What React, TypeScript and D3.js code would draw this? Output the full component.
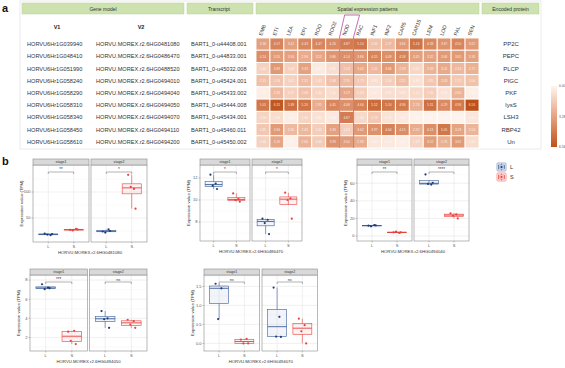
import React from "react";
import * as d3 from "d3";

// ---------- Panel a data ----------
const columns = ["EMB", "ETI", "LEA", "EPI", "ROO", "ROO2", "NOD", "RAC", "INF1", "INF2", "CAR5", "CAR15", "LEM", "LOD", "PAL", "SEN"];
const v1Ids = ["HORVU6Hr1G039940", "HORVU6Hr1G048410", "HORVU6Hr1G051990", "HORVU6Hr1G058240", "HORVU6Hr1G058290", "HORVU6Hr1G058310", "HORVU6Hr1G058340", "HORVU6Hr1G058450", "HORVU6Hr1G058610"];
const v2Ids = ["HORVU.MOREX.r2.6HG0481080", "HORVU.MOREX.r2.6HG0486470", "HORVU.MOREX.r2.6HG0488520", "HORVU.MOREX.r2.6HG0494010", "HORVU.MOREX.r2.6HG0494040", "HORVU.MOREX.r2.6HG0494050", "HORVU.MOREX.r2.6HG0494070", "HORVU.MOREX.r2.6HG0494110", "HORVU.MOREX.r2.6HG0494200"];
const transcripts = ["BART1_0-u44408.001", "BART1_0-u44833.001", "BART1_0-u45032.008", "BART1_0-u45424.001", "BART1_0-u45433.002", "BART1_0-u45444.008", "BART1_0-u45434.001", "BART1_0-u45460.011", "BART1_0-u45450.002"];
const proteins = ["PP2C", "PEPC", "PLCP", "PIGC", "PKF", "lysS", "LSH3", "RBP42", "Un"];

const heatPP2C = [3.36, 4.57, 3.42, 4.43, 4.47, 4.26, 4.87, 5.10, 2.05, 2.37, 3.66, 5.16, 4.38, 3.87, 4.50, 3.62];
const heatPEPC = [4.14, 3.55, 3.34, 2.94, 3.11, 3.86, 4.14, 3.86, 4.55, 4.09, 4.58, 3.45, 3.32, 3.66, 3.65, 3.36];
const heatPLCP = [1.40, 3.69, 1.43, 3.33, 0.45, 0.90, 2.13, 3.02, 2.41, 3.66, 2.59, 1.20, 2.59, 3.01, 2.43, 2.72];
const heatPIGC = [2.15, 1.94, 1.41, 2.31, 1.43, 2.08, 2.35, 1.73, 0.90, 1.56, 2.21, 0.80, 1.85, 2.63, 1.73, 2.04];
const heatPKF = [0.30, 2.35, 1.47, 2.08, 1.30, 1.00, 3.19, 1.50, 0.50, 0.90, 0.90, 1.12, 1.56, 0.70, 2.60, 0.30];
const heatLysS = [5.01, 6.31, 5.38, 5.20, 2.91, 4.45, 4.08, 4.66, 5.52, 5.10, 4.96, 2.74, 5.31, 4.29, 4.96, 6.56];
const heatLSH3 = [1.30, 1.00, 0.30, 1.30, 0.80, 0.50, 4.87, 1.10, 1.73, 0.70, 0.50, 0.13, 0.10, 0.10, 0.10, 0.60];
const heatRBP42 = [1.85, 3.66, 2.36, 2.45, 1.61, 3.34, 1.53, 3.62, 3.97, 4.64, 4.15, 2.92, 4.13, 5.05, 3.28, 2.54];
const heatUn = [1.40, 3.20, 0.21, 2.66, 1.64, 3.93, 3.50, 2.96, 0.60, 0.50, 0.30, 1.29, 3.52, 2.76, 3.62, 1.00];
const heatRows = [heatPP2C, heatPEPC, heatPLCP, heatPIGC, heatPKF, heatLysS, heatLSH3, heatRBP42, heatUn];
const legendTicks = [0, 3.28, 6.56];

// ---------- Panel b data ----------
const groups = ["L", "S"];
const stages = ["stage1", "stage2"];
const jitter = [-0.14, 0.09, -0.04, 0.15];

const p1 = { s1L: [20, 17, 18, 19], s1S: [27, 29, 26, 28], s2L: [24, 28, 22, 25], s2S: [133, 106, 110, 68] };
const p2 = { s1L: [12.3, 11.5, 11.3, 11.0], s1S: [10.6, 10.1, 10.0, 9.85], s2L: [8.3, 8.2, 7.9, 6.9], s2S: [10.66, 10.15, 10.0, 8.3] };
const p3 = { s1L: [11.7, 12.5, 11.0, 12.0], s1S: [4.2, 3.5, 5.0, 4.0], s2L: [70, 58.5, 59.2, 60.5], s2S: [25.8, 24.5, 23, 20] };
const p4 = { s1L: [7.56, 7.2, 7.05, 7.15], s1S: [2.6, 2.7, 1.65, 1.3], s2L: [4.76, 4.0, 3.9, 3.0], s2S: [3.85, 3.7, 3.35, 3.0] };
const p5 = { s1L: [1.57, 1.45, 0.64], s1S: [0.1, 0.12, 0.0, 0.0], s2L: [1.47, 0.7, 0.18, 0.17], s2S: [0.65, 0.48, 0.32, 0.0] };

const sig1 = ["**", "*"];
const sig2 = ["*", "*"];
const sig3 = ["**", "****"];
const sig4 = ["***", "ns"];
const sig5 = ["ns", "ns"];

const ticks1 = [50, 100];
const ticks2 = [8, 10, 12];
const ticks3 = [0, 20, 40, 60];
const ticks4 = [2, 4, 6, 8];
const ticks5 = [0, 0.5, 1.0, 1.5];

const colL = "#3d5f99";
const colLpt = "#1f3b78";
const colS = "#e8423f";
const FONT = "Liberation Sans, Arial, sans-serif";

function boxStats(vals: number[]) {
  const s = vals.slice().sort(d3.ascending);
  const q1 = d3.quantile(s, 0.25)!;
  const med = d3.quantile(s, 0.5)!;
  const q3 = d3.quantile(s, 0.75)!;
  const iqr = q3 - q1;
  const lo = d3.min(s.filter((v) => v >= q1 - 1.5 * iqr))!;
  const hi = d3.max(s.filter((v) => v <= q3 + 1.5 * iqr))!;
  return { q1, med, q3, lo, hi };
}

type PlotProps = {
  x0: number; w: number; gap: number; stripTop: number; panelTop: number; panelBottom: number;
  domain: [number, number]; ticks: number[]; fmt: (v: number) => string; title: string;
  data: { s1L: number[]; s1S: number[]; s2L: number[]; s2S: number[] }; sig: string[];
};

function BoxPlot(p: PlotProps) {
  const y = d3.scaleLinear().domain(p.domain).range([p.panelBottom, p.panelTop]);
  const minor: number[] = [];
  for (let i = 0; i < p.ticks.length - 1; i++) minor.push((p.ticks[i] + p.ticks[i + 1]) / 2);
  const step = p.ticks[1] - p.ticks[0];
  if (p.ticks[0] - step / 2 > p.domain[0]) minor.push(p.ticks[0] - step / 2);
  const last = p.ticks[p.ticks.length - 1];
  if (last + step / 2 < p.domain[1]) minor.push(last + step / 2);
  const sets = [[p.data.s1L, p.data.s1S], [p.data.s2L, p.data.s2S]];
  const totalW = 2 * p.w + p.gap;
  return (
    <g fontFamily={FONT}>
      {stages.map((st, si) => {
        const left = p.x0 + si * (p.w + p.gap);
        const x = d3.scalePoint().domain(groups).range([left, left + p.w]).padding(0.6);
        const bw = x.step() * 0.75;
        const xl = x("L")!;
        const xs = x("S")!;
        const by = p.panelTop + 7;
        return (
          <g key={st}>
            <rect x={left} y={p.panelTop} width={p.w} height={p.panelBottom - p.panelTop} fill="#fff" />
            {minor.map((t) => (
              <line key={"m" + t} x1={left} x2={left + p.w} y1={y(t)} y2={y(t)} stroke="#f3f3f3" strokeWidth={0.4} />
            ))}
            {p.ticks.map((t) => (
              <line key={"t" + t} x1={left} x2={left + p.w} y1={y(t)} y2={y(t)} stroke="#e6e6e6" strokeWidth={0.6} />
            ))}
            {groups.map((g) => (
              <line key={"v" + g} x1={x(g)} x2={x(g)} y1={p.panelTop} y2={p.panelBottom} stroke="#e6e6e6" strokeWidth={0.6} />
            ))}
            {sets[si].map((vals, gi) => {
              const g = groups[gi];
              const c = gi === 0 ? colL : colS;
              const cp = gi === 0 ? colLpt : colS;
              const b = boxStats(vals);
              const cx = x(g)!;
              return (
                <g key={g}>
                  <line x1={cx} x2={cx} y1={y(b.hi)} y2={y(b.q3)} stroke={c} strokeWidth={0.6} />
                  <line x1={cx} x2={cx} y1={y(b.q1)} y2={y(b.lo)} stroke={c} strokeWidth={0.6} />
                  <rect x={cx - bw / 2} y={y(b.q3)} width={bw} height={Math.max(0.6, y(b.q1) - y(b.q3))} fill={c} fillOpacity={0.07} stroke={c} strokeWidth={0.6} />
                  <line x1={cx - bw / 2} x2={cx + bw / 2} y1={y(b.med)} y2={y(b.med)} stroke={c} strokeWidth={0.9} />
                  {vals.map((v, i) => (
                    <circle key={i} cx={cx + jitter[i % jitter.length] * x.step()} cy={y(v)} r={1.1} fill={cp} />
                  ))}
                </g>
              );
            })}
            <rect x={left} y={p.panelTop} width={p.w} height={p.panelBottom - p.panelTop} fill="none" stroke="#8a8a8a" strokeWidth={0.6} />
            <rect x={left} y={p.stripTop} width={p.w} height={p.panelTop - p.stripTop} fill="#d9d9d9" stroke="#8a8a8a" strokeWidth={0.6} />
            <text x={left + p.w / 2} y={(p.stripTop + p.panelTop) / 2 + 1.3} fontSize={3.6} textAnchor="middle" fill="#333">{st}</text>
            <path d={`M${xl},${by + 2}V${by}H${xs}V${by + 2}`} fill="none" stroke="#666" strokeWidth={0.5} />
            <text x={(xl + xs) / 2} y={by - 1} fontSize={p.sig[si] === "ns" ? 4 : 4.5} textAnchor="middle" fill="#444">{p.sig[si]}</text>
            {groups.map((g) => (
              <g key={"x" + g}>
                <line x1={x(g)} x2={x(g)} y1={p.panelBottom} y2={p.panelBottom + 1.5} stroke="#666" strokeWidth={0.4} />
                <text x={x(g)} y={p.panelBottom + 6} fontSize={4} textAnchor="middle" fill="#555">{g}</text>
              </g>
            ))}
          </g>
        );
      })}
      {p.ticks.map((t) => (
        <g key={"yt" + t}>
          <line x1={p.x0 - 1.5} x2={p.x0} y1={y(t)} y2={y(t)} stroke="#666" strokeWidth={0.4} />
          <text x={p.x0 - 2.5} y={y(t) + 1.4} fontSize={4} textAnchor="end" fill="#555">{p.fmt(t)}</text>
        </g>
      ))}
      <text transform={`translate(${p.x0 - 10},${(p.panelTop + p.panelBottom) / 2}) rotate(-90)`} fontSize={4.3} textAnchor="middle" fill="#333">Expression value (TPM)</text>
      <text x={p.x0 + totalW / 2} y={p.panelBottom + 12} fontSize={4.3} textAnchor="middle" fill="#333">{p.title}</text>
    </g>
  );
}

function LegendKey({ x, y, c, cp, label }: { x: number; y: number; c: string; cp: string; label: string }) {
  return (
    <g>
      <rect x={x} y={y} width={9} height={8} fill="#fff" stroke={c} strokeWidth={0.5} rx={1} />
      <line x1={x + 4.5} x2={x + 4.5} y1={y + 0.5} y2={y + 7.5} stroke={c} strokeWidth={0.6} />
      <rect x={x + 1.5} y={y + 2} width={6} height={4} fill="#fff" stroke={c} strokeWidth={0.7} />
      <line x1={x + 1.5} x2={x + 7.5} y1={y + 4} y2={y + 4} stroke={c} strokeWidth={0.8} />
      <circle cx={x + 4.5} cy={y + 4} r={1} fill={cp} />
      <text x={x + 13} y={y + 6} fontSize={5.5} fill="#333" fontFamily={FONT}>{label}</text>
    </g>
  );
}

export default function App() {
  const hx = d3.scaleBand().domain(columns).range([256, 479]);
  const hy = d3.scaleBand().domain(proteins).range([38, 148]);
  const color = d3.scaleSequential(d3.interpolateLab("#fdf5ef", "#be5119")).domain([0, 6.56]);
  const legY = d3.scaleLinear().domain([0, 6.56]).range([86, 147]);
  const nodX = hx("NOD")!;
  const nodW = hx.bandwidth();
  const green = "#cde2ae";
  const greenStroke = "#b7d196";

  return (
    <svg width={565} height={368} style={{ position: "absolute", left: 0, top: 0, display: "block" }} fontFamily={FONT}>
      <defs>
        <linearGradient id="heatLeg" x1="0" y1="0" x2="0" y2="1">
          {d3.range(0, 1.0001, 0.1).map((t) => (
            <stop key={t} offset={t} stopColor={color(t * 6.56)} />
          ))}
        </linearGradient>
      </defs>
      <rect width={565} height={368} fill="#fff" />
      {/* panel a */}
      <text x={2} y={12} fontSize={11} fontWeight="bold" fill="#111">a</text>
      <rect x={20} y={1} width={521} height={148} fill="#fff" stroke="#dcdcdc" strokeWidth={0.6} />
      <rect x={22} y={3} width={162} height={11} fill={green} stroke={greenStroke} strokeWidth={0.5} />
      <text x={103} y={10.5} fontSize={5} textAnchor="middle" fill="#333">Gene model</text>
      <rect x={187} y={3} width={66} height={11} fill={green} stroke={greenStroke} strokeWidth={0.5} />
      <text x={219} y={10.5} fontSize={5} textAnchor="middle" fill="#333">Transcript</text>
      <rect x={256} y={3} width={223} height={11} fill={green} stroke={greenStroke} strokeWidth={0.5} />
      <text x={367.5} y={10.5} fontSize={5} textAnchor="middle" fill="#333">Spatial expression patterns</text>
      <rect x={482} y={3} width={57} height={11} fill={green} stroke={greenStroke} strokeWidth={0.5} />
      <text x={510.5} y={10.5} fontSize={5} textAnchor="middle" fill="#333">Encoded protein</text>
      <text x={57} y={29} fontSize={5.5} fontWeight="bold" textAnchor="middle" fill="#222">V1</text>
      <text x={141} y={29} fontSize={5.5} fontWeight="bold" textAnchor="middle" fill="#222">V2</text>
      {proteins.map((pr, i) => {
        const cy = hy(pr)! + hy.bandwidth() / 2 + 2;
        return (
          <g key={pr} fontSize={5.6} fill="#333">
            <text x={27} y={cy}>{v1Ids[i]}</text>
            <text x={96} y={cy}>{v2Ids[i]}</text>
            <text x={191} y={cy}>{transcripts[i]}</text>
            <text x={511} y={cy} textAnchor="middle" fontSize={6}>{pr}</text>
          </g>
        );
      })}
      {heatRows.map((row, ri) => (
        <g key={ri}>
          {row.map((v, ci) => (
            <g key={ci}>
              <rect x={hx(columns[ci])} y={hy(proteins[ri])} width={hx.bandwidth()} height={hy.bandwidth()} fill={color(v)} stroke="#fff" strokeWidth={0.9} />
              <text x={hx(columns[ci])! + hx.bandwidth() / 2} y={hy(proteins[ri])! + hy.bandwidth() / 2 + 1.2} fontSize={3.3} textAnchor="middle" fill="#fff" fillOpacity={0.85}>{v.toFixed(2)}</text>
            </g>
          ))}
        </g>
      ))}
      {columns.map((c) => (
        <text key={c} transform={`translate(${hx(c)! + hx.bandwidth() / 2 - 1},36) rotate(-70)`} fontSize={5.2} fill="#333">{c}</text>
      ))}
      <path d={`M${nodX},148V37L${nodX + 5},15H${nodX + nodW + 6}L${nodX + nodW},37V148`} fill="none" stroke="#c35bb0" strokeWidth={0.9} />
      <rect x={551} y={86} width={6} height={61} fill="url(#heatLeg)" />
      {legendTicks.map((t) => (
        <text key={t} x={559} y={legY(t) + 1.2} fontSize={3.2} fill="#555">{t.toFixed(2)}</text>
      ))}

      {/* panel b */}
      <text x={2} y={165} fontSize={11} fontWeight="bold" fill="#111">b</text>
      <BoxPlot x0={33} w={56} gap={2} stripTop={159} panelTop={165} panelBottom={242} domain={[3.8, 152]} ticks={ticks1} fmt={(v) => String(v)} title="HORVU.MOREX.r2.6HG0481080" data={p1} sig={sig1} />
      <BoxPlot x0={200} w={50} gap={2} stripTop={159} panelTop={165} panelBottom={241} domain={[6.27, 13.18]} ticks={ticks2} fmt={(v) => String(v)} title="HORVU.MOREX.r2.6HG0486470" data={p2} sig={sig2} />
      <BoxPlot x0={357} w={55} gap={2} stripTop={159} panelTop={165} panelBottom={241} domain={[-5.7, 80.7]} ticks={ticks3} fmt={(v) => String(v)} title="HORVU.MOREX.r2.6HG0494040" data={p3} sig={sig3} />
      <BoxPlot x0={30} w={57.5} gap={2} stripTop={269} panelTop={275} panelBottom={351} domain={[0.58, 8.53]} ticks={ticks4} fmt={(v) => String(v)} title="HORVU.MOREX.r2.6HG0494050" data={p4} sig={sig4} />
      <BoxPlot x0={204} w={55.5} gap={2.5} stripTop={269} panelTop={275} panelBottom={351} domain={[-0.2, 1.8]} ticks={ticks5} fmt={(v) => v.toFixed(1)} title="HORVU.MOREX.r2.6HG0494070" data={p5} sig={sig5} />
      <LegendKey x={497} y={163} c={colL} cp={colLpt} label="L" />
      <LegendKey x={497} y={173} c={colS} cp={colS} label="S" />
    </svg>
  );
}
